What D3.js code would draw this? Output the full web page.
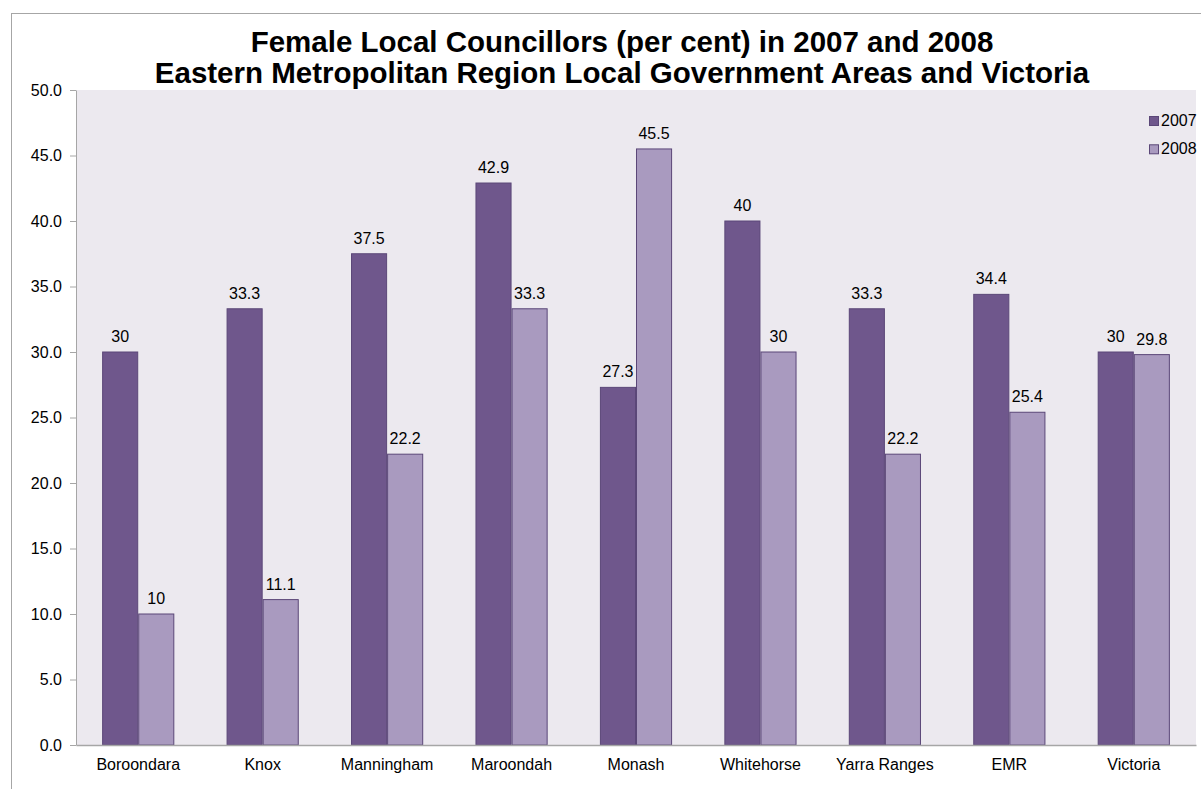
<!DOCTYPE html>
<html>
<head>
<meta charset="utf-8">
<script src="https://cdn.jsdelivr.net/npm/d3@7"></script>
<style>
  html, body { margin: 0; padding: 0; background: #fff; }
  svg text { font-family: "Liberation Sans", Arial, sans-serif; }
</style>
</head>
<body>
<svg id="chart" width="1201" height="789"></svg>
<script>
// Female councillors (per cent) by local government area
const categories = ["Boroondara", "Knox", "Manningham", "Maroondah", "Monash", "Whitehorse", "Yarra Ranges", "EMR", "Victoria"];
const values2007 = [30, 33.3, 37.5, 42.9, 27.3, 40, 33.3, 34.4, 30];
const values2008 = [10, 11.1, 22.2, 33.3, 45.5, 30, 22.2, 25.4, 29.8];
const seriesNames = ["2007", "2008"];
const yTicks = [0, 5, 10, 15, 20, 25, 30, 35, 40, 45, 50];
const titleLines = [
  "Female Local Councillors (per cent) in 2007 and 2008",
  "Eastern Metropolitan Region Local Government Areas and Victoria"
];

const colors = { "2007": "#6f578c", "2008": "#a99abf" };
const strokeColor = "#5b4778";

const svg = d3.select("#chart");
const plot = { left: 76, right: 1196, top: 90, bottom: 745 };

// outer frame
svg.append("rect")
  .attr("x", 11.5).attr("y", 13.5)
  .attr("width", 1220).attr("height", 800)
  .attr("fill", "#fff").attr("stroke", "#a6a6a6").attr("stroke-width", 1);

// plot background
svg.append("rect")
  .attr("x", plot.left).attr("y", plot.top)
  .attr("width", plot.right - plot.left).attr("height", plot.bottom - plot.top)
  .attr("fill", "#ece9ef");

const x = d3.scaleBand().domain(categories).range([plot.left, plot.right]).padding(0);
const xs = d3.scaleBand().domain(seriesNames).range([0, x.bandwidth() * 0.58]).padding(0);
const groupOffset = (x.bandwidth() - x.bandwidth() * 0.58) / 2;
const y = d3.scaleLinear().domain([0, 50]).range([plot.bottom, plot.top]);

// y axis
const yAxis = svg.append("g")
  .attr("transform", `translate(${plot.left},0)`)
  .call(d3.axisLeft(y).tickValues(yTicks).tickFormat(d3.format(".1f")).tickSize(6).tickSizeOuter(0));
yAxis.select(".domain").attr("stroke", "#a6a6a6");
yAxis.selectAll(".tick line").attr("stroke", "#a6a6a6");
yAxis.selectAll(".tick text").attr("font-size", 16).attr("fill", "#000").attr("dx", -5);

// bars
const data = categories.map((c, i) => ({ cat: c, vals: [
  { key: "2007", v: values2007[i] },
  { key: "2008", v: values2008[i] }
]}));

const groups = svg.append("g").selectAll("g").data(data).join("g")
  .attr("transform", d => `translate(${x(d.cat) + groupOffset},0)`);

groups.selectAll("rect").data(d => d.vals).join("rect")
  .attr("x", d => xs(d.key) + 0.5)
  .attr("y", d => y(d.v))
  .attr("width", xs.bandwidth() - 1)
  .attr("height", d => y(0) - y(d.v))
  .attr("fill", d => colors[d.key])
  .attr("stroke", strokeColor)
  .attr("stroke-width", 1);

groups.selectAll("text").data(d => d.vals).join("text")
  .attr("x", d => xs(d.key) + xs.bandwidth() / 2)
  .attr("y", d => y(d.v) - 10)
  .attr("text-anchor", "middle")
  .attr("font-size", 16)
  .attr("fill", "#000")
  .text(d => String(d.v));

// x axis
const xAxis = svg.append("g")
  .attr("transform", `translate(0,${plot.bottom})`)
  .call(d3.axisBottom(x).tickSize(0).tickSizeOuter(0));
xAxis.select(".domain").attr("stroke", "#a6a6a6").attr("stroke-width", 1.5);
xAxis.selectAll(".tick text").attr("font-size", 16).attr("fill", "#000")
  .attr("dy", null).attr("y", 24.5);

// legend
const legend = svg.append("g").selectAll("g").data(seriesNames).join("g")
  .attr("transform", (d, i) => `translate(1149,${116 + i * 28.3})`);
legend.append("rect")
  .attr("x", 0.5).attr("y", 0.5).attr("width", 9).attr("height", 9)
  .attr("fill", d => colors[d]).attr("stroke", strokeColor).attr("stroke-width", 1);
legend.append("text")
  .attr("x", 12).attr("y", 10)
  .attr("font-size", 16).attr("fill", "#000")
  .text(d => d);

// title
svg.append("g").selectAll("text").data(titleLines).join("text")
  .attr("x", 622)
  .attr("y", (d, i) => 52 + i * 30.5)
  .attr("text-anchor", "middle")
  .attr("font-size", 29.5)
  .attr("font-weight", "bold")
  .attr("fill", "#000")
  .text(d => d);
</script>
</body>
</html>
